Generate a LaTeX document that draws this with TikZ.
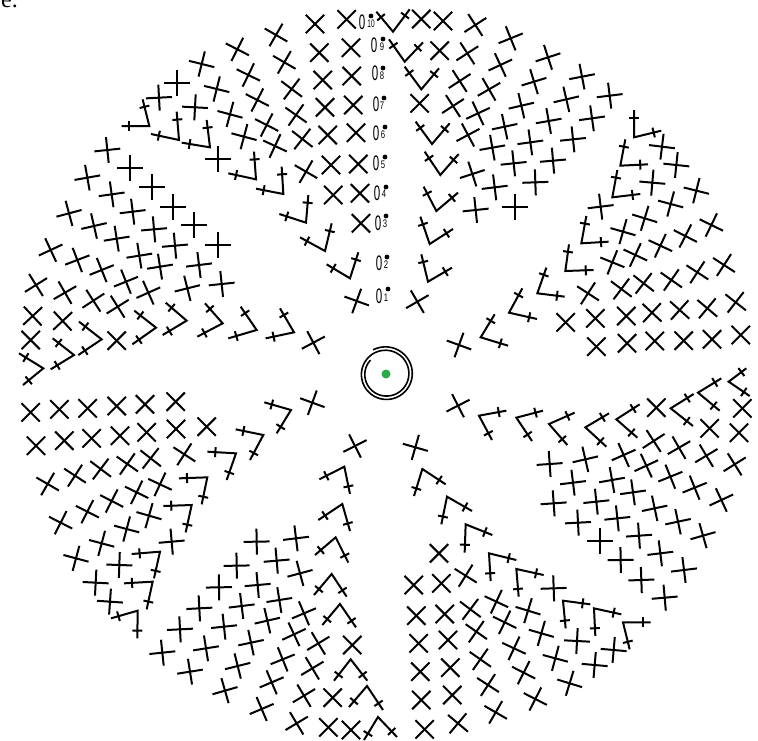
\documentclass[tikz,border=0pt]{standalone}
\usepackage{fontspec}
\setmainfont{Liberation Serif}
\newfontfamily\labfont{Liberation Sans}
\usetikzlibrary{calc}
\definecolor{dotgreen}{HTML}{2BAA4A}
\tikzset{
  stitch/.style={line width=2pt,line cap=butt,black},
  quad/.style={x=0.33333pt,y=-0.33333pt},
  zero/.style={inner sep=0pt,font=\labfont\fontsize{21}{21}\selectfont,xscale=0.55},
  subnum/.style={inner sep=0pt,font=\labfont\fontsize{11}{11}\selectfont,xscale=0.7},
}
\newcommand{\crossset}[1]{%
  \foreach \cx/\cy/\ca in {#1}{%
    \draw[stitch] ({\cx+39*cos(\ca)},{\cy-39*sin(\ca)}) -- ({\cx-39*cos(\ca)},{\cy+39*sin(\ca)});
    \draw[stitch] ({\cx+39*sin(\ca)},{\cy+39*cos(\ca)}) -- ({\cx-39*sin(\ca)},{\cy-39*cos(\ca)});
  }}
\newcommand{\vset}[1]{%
  \foreach \cx/\cy/\ax/\ay/\bx/\by in {#1}{%
    \coordinate (vc) at (\cx,\cy);
    \coordinate (va) at (\ax,\ay);
    \coordinate (vb) at (\bx,\by);
    \coordinate (ta) at ($(vc)!0.72!(va)$);
    \coordinate (tb) at ($(vc)!0.72!(vb)$);
    \draw[stitch,line join=miter] (va) -- (vc) -- (vb);
    \draw[stitch] ($(ta)!5pt!90:(va)$) -- ($(ta)!5pt!-90:(va)$);
    \draw[stitch] ($(tb)!5pt!90:(vb)$) -- ($(tb)!5pt!-90:(vb)$);
  }}
\begin{document}
\begin{tikzpicture}[x=1pt,y=-1pt]
\useasboundingbox (0,0) rectangle (758,740);
\clip (0,0) rectangle (758,740);
\fill[white] (0,0) rectangle (758,740);
\node[inner sep=0pt,anchor=base west,font=\fontsize{24}{24}\selectfont] (corner) at (1,7.5) {e.};
% top-left quadrant
\begin{scope}[quad]
\crossset{1040/58/45,945/72/45,828/105/-30,712/148/-27,605/192/-14,532/250/0,477/293/3,
958/158/45,853/187/-30,745/225/-26,650/267/-14,585/322/-3,
968/240/45,875/267/-37,772/300/-27,690/343/-15,732/410/-15,655/478/0,
975/322/45,888/345/-35,800/375/-27,825/438/-25,907/417/-38,983/405/45,1068/398/45,1060/315/45,1055/228/45,1053/143/45,
1075/492/45,993/495/45,918/515/-30,1080/580/45,1000/585/45,1083/670/45,1070/903/-20,
322/450/6,390/505/0,262/533/10,455/562/0,335/583/8,518/622/0,398/635/7,207/640/15,583/675/0,282/678/13,462/688/5,655/735/0,350/716/9,525/737/5,
152/750/25,232/780/21,418/767/9,305/810/22,480/800/9,597/795/7,108/855/32,195/878/30,378/845/22,445/878/24,562/865/14,665/852/6,
280/902/33,353/920/32,98/948/43,188/963/43,92/1020/45,350/1022/45,940/1028/28}
\vset{448/378/365/378/428/298,537/420/453/402/530/335,630/442/545/428/620/360,768/538/685/520/762/455,850/582/768/566/845/500,
918/668/838/642/925/585,975/753/900/712/995/670,1050/835/980/793/1075/757,
560/962/488/1005/497/908,468/983/397/1033/403/932,305/1018/235/1065/237/965,222/1065/152/1108/158/1015,130/1105/57/1060/69/1155,
668/970/592/1010/615/910,770/990/685/1015/722/920,882/997/797/1015/840/925}
\end{scope}
% top-right quadrant
\begin{scope}[quad,shift={(378pt,0pt)}]
\crossset{130/57/45,195/63/45,292/75/33,398/115/22,510/172/18,612/230/11,695/287/7,185/152/45,268/160/33,367/195/25,468/245/17,565/298/13,642/355/8,
245/243/33,333/268/30,430/317/13,512/363/10,585/418/6,125/310/45,225/318/33,300/340/25,380/380/12,
270/405/28,343/443/10,457/427/8,525/482/5,407/490/6,283/522/18,350/562/7,472/547/2,293/630/6,412/620/0,118/905/30,243/1035/-20,
852/440/-7,895/495/-6,823/548/-5,955/572/-14,878/612/-15,668/620/7,800/655/-17,1000/675/-26,735/695/-16,922/708/-27,847/737/-25,772/765/-25,703/787/-22,
1038/795/-33,958/817/-33,880/840/-35,797/850/-38,730/867/-37,630/880/-33,1073/907/-38,988/925/-40,905/930/-42,822/938/-43,745/948/45,652/955/45,563/967/45,
1088/1005/45,1002/1018/45,917/1022/45,830/1023/45,747/1030/45,655/1040/45}
\vset{45/95/-5/35/95/28,80/185/33/118/135/127,130/268/80/200/183/205,162/432/113/365/215/370,187/525/140/455/242/462,175/633/137/560/240/578,155/732/127/650/225/687,150/845/130/763/222/803,
768/412/768/330/850/392,727/497/742/418/810/493,703/592/718/510/787/582,610/730/625/648/692/725,562/813/573/733/647/810,478/880/505/803/560/890,393/938/433/865/477/957,308/1012/350/943/390/1037}
\end{scope}
% bottom-left quadrant
\begin{scope}[quad,shift={(0pt,-370pt)}]
\crossset{527/95/45,435/103/45,350/108/45,263/115/45,178/118/45,92/127/45,620/170/45,528/177/45,440/187/45,360/197/45,275/205/45,193/212/45,108/227/45,
553/253/-33,452/265/-38,382/282/-35,302/297/-37,225/317/-33,143/342/-30,480/343/-25,410/367/-26,335/393/-27,262/425/-27,182/458/-27,447/437/-16,380/477/-15,305/520/-15,228/565/-15,
515/515/5,358/585/-2,287/638/-3,330/695/-4,937/98/-20,1065/228/27,
770/515/1,888/505/7,710/587/1,830/572/5,900/610/15,657/652/1,773/645/5,838/690/9,912/730/23,598/715/3,725/708/7,802/752/13,882/793/25,955/820/31,
540/778/3,672/770/6,753/818/12,848/868/22,937/895/31,487/848/6,618/835/9,713/888/14,815/937/23,912/977/31,998/983/45,570/905/9,675/962/16,785/1017/23,890/1060/31,985/1072/45,1053/1080/45,1057/825/45}
\vset{622/322/537/325/605/403,575/405/490/408/557/487,480/545/395/552/462/625,458/635/372/640/440/718,413/722/333/745/412/805,708/250/622/245/680/330,790/195/707/178/750/270,873/120/793/97/830/190,
1033/290/958/328/1050/372,1027/402/955/450/1050/483,1007/502/945/555/1045/578,995/612/942/675/1040/680,1020/702/967/765/1068/772,1052/868/1002/932/1102/932,1101/948/1047/1011/1149/1020,1134/1041/1092/1110/1191/1101}
\end{scope}
% bottom-right quadrant
\begin{scope}[quad,shift={(378pt,-370pt)}]
\crossset{240/107/27,835/113/45,1093/115/45,1083/188/45,995/175/45,1070/283/32,985/257/31,903/233/30,827/213/33,737/255/24,622/268/13,515/282/4,
1030/390/25,950/353/22,877/320/22,805/287/25,702/330/10,585/338/7,975/497/16,900/455/12,830/415/12,765/367/8,655/395/6,527/400/4,
918/600/7,847/550/7,783/497/4,718/445/6,600/458/3,665/513/0,728/570/1,860/683/5,790/630/2,
112/232/-16,183/550/45,263/617/-32,190/640/45,107/645/45,527/655/2,355/695/-25,450/722/-17,277/718/-37,200/732/45,115/737/45,
597/813/-3,707/840/-5,490/790/-16,380/757/-26,295/785/-35,210/810/45,122/820/45,650/885/-5,532/865/-15,408/835/-25,307/868/-35,217/893/45,127/905/45,
575/940/-17,437/908/-27,330/945/-33,223/975/45,130/990/45,472/987/-27,353/1027/-30,240/1060/-40,140/1078/45}
\vset{303/137/385/122/342/210,415/143/495/122/462/213,513/162/590/128/568/225,622/172/693/130/685/230,715/148/785/103/778/203,878/115/947/72/945/168,960/68/1030/25/1025/122,1052/35/1105/-5/1115/78,
133/297/108/378/203/343,207/380/190/463/282/423,263/463/260/548/343/495,333/550/338/633/415/570,415/597/422/680/497/615,555/692/563/775/637/703,648/715/652/798/730/733,735/757/755/838/818/757}
\end{scope}
% round labels
\foreach \n/\zx/\zy/\sx/\sy/\dx/\dy/\sc in {1/379/296/386/298/388/289/1,2/379/263/386/265/387/257/1,3/378/223/385/224/386/216/1,4/377/193/384/194/386/187/1,5/376/163/383/165/385/157/1,6/376/133/383/135/385/127/1,7/376/104/382/106/384/98/1,8/375/73/382/76/383/68/1,9/374/45/382/47/383/39/1,10/362/22/371/24/371/16/0.85}{
  \node[zero] (z\n) at (\zx,\zy) {0};
  \node[subnum,xscale=\sc] (s\n) at (\sx,\sy) {\n};
  \fill (\dx,\dy) circle (2.4);
}
% centre
\draw[line width=1.6pt,domain=0:700,samples=120,smooth,variable=\t]
  plot ({386+(27.4-6.6*\t/700)*cos(118-\t)},{374-(27.4-6.6*\t/700)*sin(118-\t)});
\fill[dotgreen] (386,374) circle (4.5);
\end{tikzpicture}
\end{document}
